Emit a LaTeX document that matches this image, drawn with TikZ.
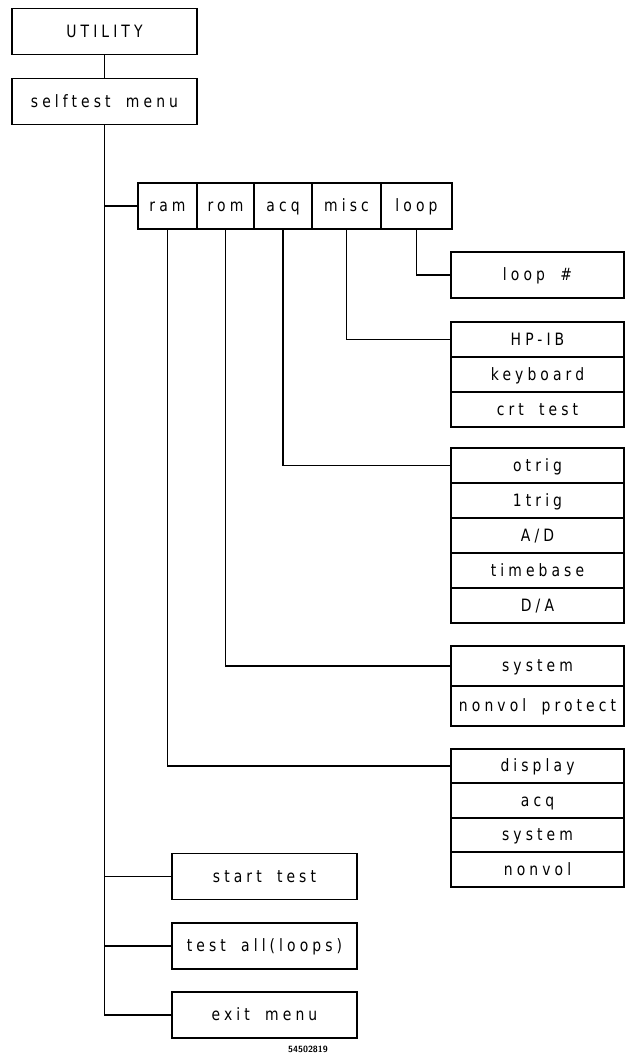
\documentclass[tikz,border=0pt]{standalone}
\usepackage{fontspec}
\newfontfamily\plotfont[FakeStretch=0.82,LetterSpace=24,WordSpace=1.8]{DejaVu Sans}
\usetikzlibrary{positioning}
\tikzset{
  menubox/.style={draw, line width=1.6pt, outer sep=0pt, inner sep=0pt, minimum height=46pt, text height=1.15em, text depth=0pt, font=\plotfont\fontsize{17}{17}\selectfont},
  leftbox/.style={menubox, minimum width=185pt},
  keybox/.style={menubox},
  listbox/.style={menubox, minimum width=173pt, minimum height=35pt},
  wire/.style={line width=1.3pt},
}
\begin{document}
\begin{tikzpicture}[x=1pt, y=-1pt, node distance=0pt]
  \useasboundingbox (0,0) rectangle (626,1055);
  \node[leftbox] (util) at (104.5,31.5) {UTILITY};
  \node[leftbox] (sm) at (104.5,101.5) {selftest menu};
  % softkey row
  \node[keybox, minimum width=59pt] (ram) at (167.5,206) {ram};
  \node[keybox, minimum width=57pt, right=of ram] (rom) {rom};
  \node[keybox, minimum width=58pt, right=of rom] (acq) {acq};
  \node[keybox, minimum width=69pt, right=of acq] (misc) {misc};
  \node[keybox, minimum width=71pt, right=of misc] (loop) {loop};
  % test lists
  \node[listbox, minimum height=46pt] (loopnr) at (537.5,275) {loop \#};
  \node[listbox] (hpib) at (537.5,339.5) {HP-IB};
  \node[listbox, below=of hpib] (kbd) {keyboard};
  \node[listbox, below=of kbd] (crt) {crt test};
  \node[listbox] (trigo) at (537.5,465.5) {otrig};
  \node[listbox, below=of trigo] (trigi) {1trig};
  \node[listbox, below=of trigi] (adc) {A/D};
  \node[listbox, below=of adc] (tb) {timebase};
  \node[listbox, below=of tb] (dac) {D/A};
  \node[listbox, minimum height=40pt] (romsys) at (537.5,666) {system};
  \node[listbox, minimum height=40pt, below=of romsys] (nvp) {nonvol protect};
  \node[listbox, minimum height=34.5pt] (disp) at (537.5,766) {display};
  \node[listbox, minimum height=34.5pt, below=of disp] (ramacq) {acq};
  \node[listbox, minimum height=34.5pt, below=of ramacq] (ramsys) {system};
  \node[listbox, minimum height=34.5pt, below=of ramsys] (nv) {nonvol};
  % bottom keys
  \node[leftbox] (start) at (264.5,876.5) {start test};
  \node[leftbox] (all) at (264.5,946) {test all(loops)};
  \node[leftbox] (exit) at (264.5,1015) {exit menu};
  \node[font=\fontsize{9}{9}\selectfont\bfseries\sffamily] (fig) at (308,1049) {54502819};
  % connectors
  \draw[wire] (util) -- (sm);
  \draw[wire] (sm.south) |- (exit.west);
  \foreach \n in {ram,start,all} \draw[wire] (sm.south |- \n.west) -- (\n.west);
  \foreach \k/\t in {ram/disp,rom/romsys,acq/trigo,misc/hpib,loop/loopnr} \draw[wire] (\k.south) |- (\t.west);
\end{tikzpicture}
\end{document}
